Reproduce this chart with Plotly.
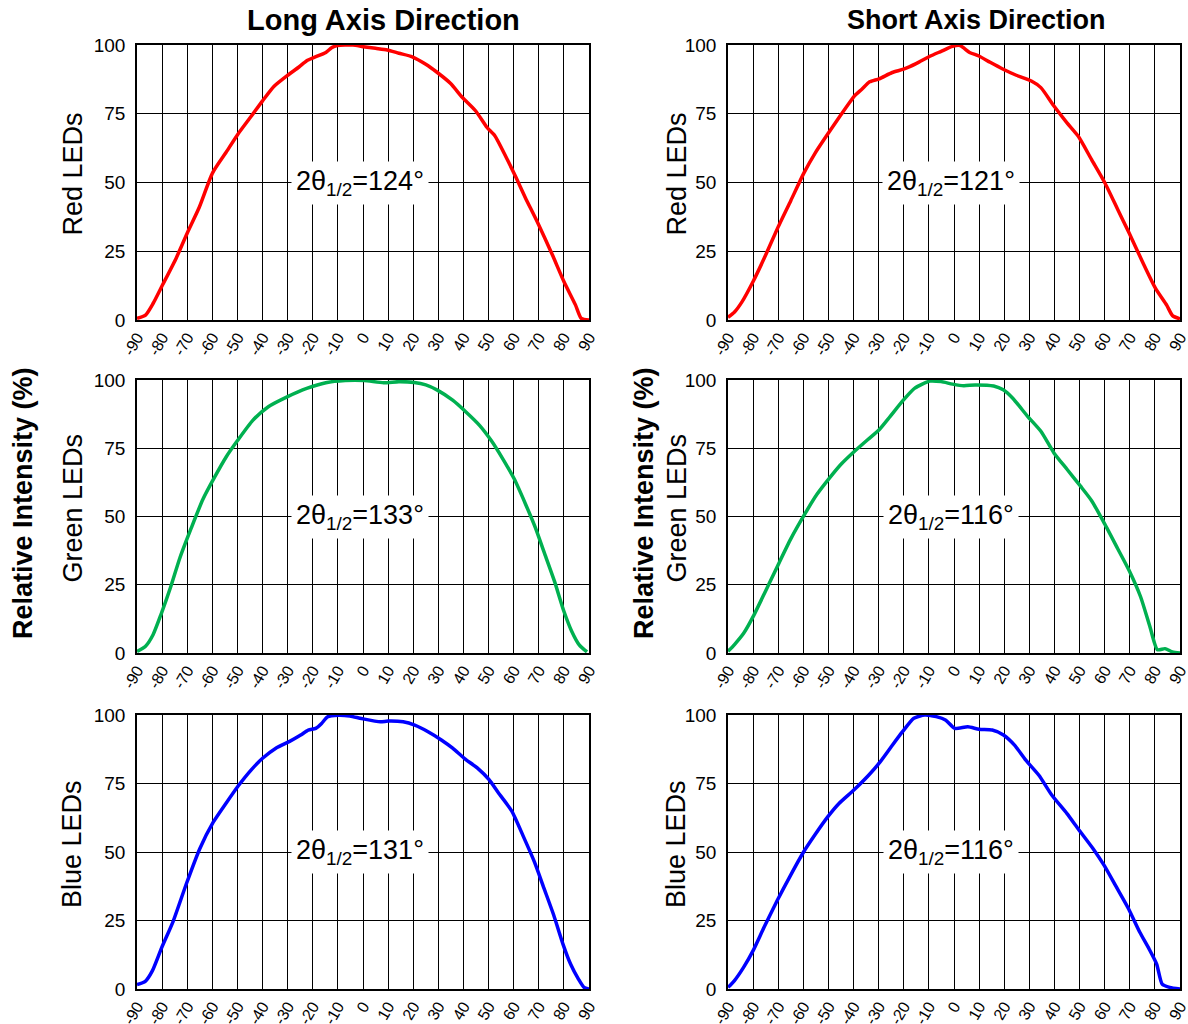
import plotly.graph_objects as go

# ---------------- data ----------------
red_long_x = [-90, -86.6, -83.6, -79.8, -74.4, -69.8, -65.2, -59.9, -54.5, -49.9, -44.6, -40, -35.4, -30, -25.5,
              -22.4, -19.4, -14.8, -12.5, -10.2, -4, 0, 5, 9.7, 14.3, 19.6, 25, 29.6, 34.9, 39.5, 44.9, 49.4,
              52.5, 57.1, 61, 64.7, 69.3, 75.4, 80, 84.6, 86.9, 90]
red_long_y = [0.6, 1.8, 6, 12.8, 22.5, 32, 41, 53.5, 61, 67.5, 74, 79.7, 85, 89, 92,
              94.3, 95.5, 97.3, 99, 99.8, 100, 99.4, 98.8, 98.2, 97, 95.7, 93, 90, 86, 81, 76, 70,
              67, 59, 51.7, 44.4, 35.9, 23.7, 14, 5.5, 0.6, 0]

red_short_x = [-90, -87.5, -84.5, -80, -75.5, -70.2, -65, -59.8, -55.3, -50, -45.5, -39.6, -36.6, -33.6, -29.8,
               -24.6, -20.1, -14.9, -9.6, -5.1, -0.6, 2.4, 6.2, 9.9, 14.4, 19.6, 24.8, 30.8, 34.6, 39.8, 45,
               49.5, 54.8, 60, 65.2, 69.7, 75, 80.2, 84.7, 87, 90]
red_short_y = [1, 2.8, 6.5, 14, 22.6, 33.5, 43.4, 53.4, 60.7, 68, 74, 81.5, 84, 86.6, 87.7,
               90, 91.2, 93.3, 95.9, 97.7, 99.5, 99.8, 97.3, 96, 93.7, 91.2, 89, 86.9, 84.5, 77.8, 71.7,
               66.8, 58.3, 50, 40.2, 31.7, 21.3, 11.6, 5.4, 1.6, 0.4]

green_long_x = [-90, -86.6, -83.6, -80.5, -76.7, -72.9, -68.3, -63.7, -59.1, -54.5, -49.9, -43.8, -37.7, -30,
                -22.4, -14.8, -7.1, 0.5, 8.2, 14.3, 20.4, 25, 29.6, 35.7, 41, 46.4, 51, 55.6, 60.2, 64.7,
                68.6, 72.4, 76.2, 80, 83.1, 86.1, 89.2]
green_long_y = [0.6, 2.5, 6.7, 14, 23.9, 34.9, 46, 56.4, 64.4, 71.8, 77.9, 85.3, 90.2, 93.9,
                96.9, 99, 99.8, 99.8, 99, 99.4, 99.1, 98.2, 96.3, 92.6, 88.3, 83.4, 77.9, 71.2, 63.8, 54.6,
                46, 36.2, 26.4, 15.3, 8, 3, 0.4]

green_short_x = [-90, -87.5, -83.7, -80, -75.5, -70.2, -65, -59.8, -54.5, -50, -44.8, -39.6, -34.3, -29.8,
                 -25.4, -20.1, -15.6, -9.6, -5.1, -0.6, 3.9, 8.4, 15.8, 19.6, 23.4, 29.3, 34.6, 39.8, 45,
                 50.3, 54.8, 60, 65.2, 69.7, 74.3, 78, 81, 84, 87, 90]
green_short_y = [0.6, 3, 7.3, 13.3, 21.8, 32, 41.8, 50.3, 58.2, 63.6, 69.3, 73.9, 78.2, 81.8,
                 86.7, 92.7, 97, 99.6, 99.4, 98.5, 97.9, 98.2, 97.8, 96.4, 93.3, 86.7, 81.2, 73.3, 67.3,
                 61.2, 55.8, 47.3, 38.2, 30.3, 20.6, 9.7, 1.2, 1.6, 0.4, 0]

blue_long_x = [-90, -86.7, -83.9, -80.2, -75.6, -70.3, -65, -59.7, -54.4, -49.8, -44.5, -40, -34.7, -29.4,
               -24.8, -21.8, -18.8, -16.5, -14.2, -9.7, -5.2, -0.6, 6.9, 10, 16, 20.6, 25.9, 31.2, 35.7,
               40.3, 45.6, 50.2, 53.9, 59.2, 63.8, 68.3, 72.1, 75.9, 79.7, 82.7, 85.8, 88, 90]
blue_long_y = [1.6, 2.8, 6.6, 15, 24.7, 38.5, 51.2, 60.8, 68, 74, 80, 84.2, 87.9, 90.3,
               92.7, 94.5, 95.1, 96.9, 99.3, 99.9, 99.6, 98.7, 97.5, 97.8, 97.5, 96.3, 93.9, 90.9, 87.9,
               84.2, 80.6, 76.4, 71.6, 65, 55.8, 46.3, 36.7, 27.1, 16.2, 9, 3.6, 0.6, 0]

blue_short_x = [-90, -87.5, -83.8, -80, -75.6, -70.4, -65.1, -59.9, -55.5, -50.3, -45.8, -39.9, -34, -29.4,
                -25, -20.5, -16, -11.6, -7.1, -3.4, 0.3, 5.5, 10, 15.2, 19.7, 24.1, 28.6, 33.8, 39, 45,
                49.4, 55.4, 59.8, 64.3, 69.5, 74, 77.7, 80.7, 82.9, 85.9, 90]
blue_short_y = [0.6, 3, 7.9, 14, 22.6, 32.3, 41.5, 50, 56.1, 62.8, 67.7, 72.6, 78, 82.9,
                88.4, 93.9, 98.8, 100, 99.4, 98.2, 95.1, 95.7, 94.8, 94.5, 92.7, 89, 83.5, 78, 70.7, 64,
                58.5, 51.2, 45.1, 37.8, 29.3, 20.7, 14.6, 9.1, 1.8, 0.6, 0]

x_ticks = list(range(-90, 91, 10))
y_ticks = [0, 25, 50, 75, 100]
row_labels = ["Red LEDs", "Green LEDs", "Blue LEDs"]
col_titles = ["Long Axis Direction", "Short Axis Direction"]
half_angles = [[124, 121], [133, 116], [131, 116]]
common_ylabel = "Relative Intensity (%)"
colors = ["#ff0000", "#00b050", "#0000ff"]

series = [[(red_long_x, red_long_y), (red_short_x, red_short_y)],
          [(green_long_x, green_long_y), (green_short_x, green_short_y)],
          [(blue_long_x, blue_long_y), (blue_short_x, blue_short_y)]]

# ---------------- layout geometry ----------------
W, H = 1188, 1024
col_px = [(137, 589), (728, 1180)]
row_px = [(45, 320), (380, 653), (715, 989)]
FONT = "Liberation Sans, Arial, sans-serif"

fig = go.Figure()
layout = dict(width=W, height=H, margin=dict(l=0, r=0, t=0, b=0, autoexpand=False),
              paper_bgcolor="white", plot_bgcolor="white", showlegend=False,
              font=dict(family=FONT, color="black"))
annotations = []

k = 0
for r in range(3):
    for c in range(2):
        k += 1
        xs, ys = series[r][c]
        xa = "x" if k == 1 else f"x{k}"
        ya = "y" if k == 1 else f"y{k}"
        fig.add_trace(go.Scatter(x=xs, y=ys, mode="lines", xaxis=xa, yaxis=ya,
                                 line=dict(color=colors[r], width=3.5, shape="spline", smoothing=0.6),
                                 hoverinfo="skip"))
        x0, x1 = col_px[c]
        y0, y1 = row_px[r]
        axis_common = dict(showline=True, linecolor="black", linewidth=1.5, mirror=True,
                           showgrid=True, gridcolor="black", gridwidth=1, zeroline=False,
                           automargin=False, ticklabeloverflow="allow", ticks="", ticklen=0)
        layout[f"xaxis{k if k > 1 else ''}"] = dict(
            domain=[x0 / W, x1 / W], anchor=ya, range=[-90, 90],
            tickmode="array", tickvals=x_ticks, ticktext=[str(v) for v in x_ticks],
            tickangle=-60, ticklabelstandoff=0,
            tickfont=dict(size=16, family=FONT, color="black"), **axis_common)
        layout[f"yaxis{k if k > 1 else ''}"] = dict(
            domain=[1 - y1 / H, 1 - y0 / H], anchor=xa, range=[0, 100],
            tickmode="array", tickvals=y_ticks, ticktext=[str(v) for v in y_ticks],
            ticklabelstandoff=6,
            tickfont=dict(size=19, family=FONT, color="black"), **axis_common)
        annotations.append(dict(
            x=-1, y=50, xref=xa, yref=ya,
            text=f"2θ<sub>1/2</sub>={half_angles[r][c]}°", showarrow=False,
            font=dict(size=27, family=FONT, color="black"),
            bgcolor="white", borderpad=4))
        # row label
        lx = 72 if c == 0 else 676
        annotations.append(dict(
            x=lx / W, y=1 - ((y0 + y1) / 2 - 8) / H, xref="paper", yref="paper",
            text=row_labels[r], textangle=-90, showarrow=False,
            font=dict(size=27, family=FONT, color="black"),
            xanchor="center", yanchor="middle"))

# column titles
annotations.append(dict(x=383 / W, y=1 - 20 / H, xref="paper", yref="paper",
                        text=f"<b>{col_titles[0]}</b>", showarrow=False,
                        font=dict(size=29, family=FONT, color="black"),
                        xanchor="center", yanchor="middle"))
annotations.append(dict(x=976 / W, y=1 - 20 / H, xref="paper", yref="paper",
                        text=f"<b>{col_titles[1]}</b>", showarrow=False,
                        font=dict(size=27, family=FONT, color="black"),
                        xanchor="center", yanchor="middle"))
# common y label
for lx in (23, 644):
    annotations.append(dict(x=lx / W, y=1 - 503 / H, xref="paper", yref="paper",
                            text=f"<b>{common_ylabel}</b>", textangle=-90, showarrow=False,
                            font=dict(size=27, family=FONT, color="black"),
                            xanchor="center", yanchor="middle"))

layout["annotations"] = annotations
fig.update_layout(**layout)
fig.write_html("out.html")
